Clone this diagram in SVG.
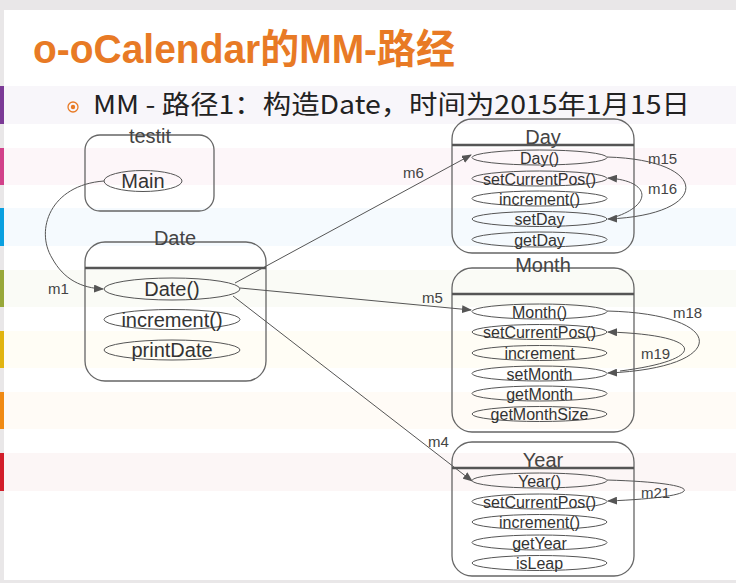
<svg xmlns="http://www.w3.org/2000/svg" width="736" height="583" viewBox="0 0 736 583">
<defs>
<marker id="arr" markerUnits="userSpaceOnUse" markerWidth="10" markerHeight="8" refX="9" refY="4" orient="auto">
<path d="M0,0 L10,4 L0,8 z" fill="#555"/>
</marker>
<style>
.box{fill:none;stroke:#666;stroke-width:1.3}
.sep{stroke:#555;stroke-width:2.5}
.ov{fill:none;stroke:#555;stroke-width:1}
.t{font-family:"Liberation Sans",Arial,sans-serif;fill:#333;text-anchor:middle}
.big{font-size:20px}
.sm{font-size:16px}
.lbl{font-family:"Liberation Sans",Arial,sans-serif;font-size:15px;fill:#444}
.ttl{font-family:"Liberation Sans",Arial,sans-serif;font-size:20px;fill:#444;text-anchor:middle}
.con{fill:none;stroke:#555;stroke-width:1;marker-end:url(#arr)}
</style>
</defs>
<rect x="0" y="0" width="736" height="583" fill="#ffffff"/>
<g id="background">
<rect x="0" y="0" width="736" height="10" fill="#e9e7e8"/>
<rect x="0" y="0" width="4" height="583" fill="#e9e7e8"/>
<rect x="0" y="580" width="736" height="3" fill="#e9e7e8"/>
<rect x="4" y="86" width="732" height="38" fill="#f8f6fa"/>
<rect x="4" y="148" width="732" height="37" fill="#fdf6f9"/>
<rect x="4" y="208" width="732" height="38" fill="#f5fafe"/>
<rect x="4" y="270" width="732" height="37" fill="#fafbf6"/>
<rect x="4" y="331" width="732" height="37" fill="#fffdf5"/>
<rect x="4" y="392" width="732" height="37" fill="#fffbf6"/>
<rect x="4" y="453" width="732" height="38" fill="#fcf6f6"/>
<rect x="0" y="86" width="4" height="38" fill="#7b3a96"/>
<rect x="0" y="148" width="4" height="37" fill="#d2418a"/>
<rect x="0" y="208" width="4" height="38" fill="#0aa0e0"/>
<rect x="0" y="270" width="4" height="37" fill="#98a83a"/>
<rect x="0" y="331" width="4" height="37" fill="#e1b410"/>
<rect x="0" y="392" width="4" height="37" fill="#f08a14"/>
<rect x="0" y="453" width="4" height="38" fill="#d21e2a"/>
</g>
<g id="title">
<text x="33" y="63" font-family="Liberation Sans,'Noto Sans CJK SC',sans-serif" font-size="40" font-weight="bold" fill="#e87a25" textLength="422" lengthAdjust="spacingAndGlyphs">o-oCalendar的MM-路经</text>
<circle cx="73" cy="107" r="5" fill="none" stroke="#e87a25" stroke-width="1.3"/>
<circle cx="73" cy="107" r="2.2" fill="#e87a25"/>
<text x="93" y="114" font-family="'Noto Sans CJK SC',sans-serif" font-size="26" fill="#222" textLength="597" lengthAdjust="spacingAndGlyphs">MM - 路径1：构造Date，时间为2015年1月15日</text>
</g>
<g id="testit">
<rect class="box" x="85" y="135" width="129" height="76" rx="15"/>
<text class="ttl" x="150" y="143" font-size="19">testit</text>
<ellipse class="ov" cx="143" cy="181" rx="39" ry="10.5"/>
<text class="t big" x="143" y="188">Main</text>
</g>
<g id="Date">
<rect class="box" x="85" y="242" width="181" height="139" rx="20"/>
<text class="ttl" x="175" y="245">Date</text>
<line class="sep" x1="85" y1="268" x2="266" y2="268"/>
<ellipse class="ov" cx="172" cy="289" rx="68" ry="11"/>
<text class="t big" x="172" y="296">Date()</text>
<ellipse class="ov" cx="172" cy="319.5" rx="68" ry="10"/>
<text class="t big" x="172" y="326.5">increment()</text>
<ellipse class="ov" cx="172" cy="350" rx="68" ry="10"/>
<text class="t big" x="172" y="357">printDate</text>
</g>
<g id="Day">
<rect class="box" x="452" y="119" width="182" height="134" rx="20"/>
<text class="ttl" x="543" y="144">Day</text>
<line class="sep" x1="452" y1="145" x2="634" y2="145"/>
<ellipse class="ov" cx="539.5" cy="157.5" rx="67.5" ry="7.5"/>
<text class="t sm" x="539.5" y="163.5">Day()</text>
<ellipse class="ov" cx="539.5" cy="178.5" rx="67.5" ry="7.5"/>
<text class="t sm" x="539.5" y="184.5">setCurrentPos()</text>
<ellipse class="ov" cx="539.5" cy="198.5" rx="67.5" ry="7.5"/>
<text class="t sm" x="539.5" y="204.5">increment()</text>
<ellipse class="ov" cx="539.5" cy="219" rx="67.5" ry="7.5"/>
<text class="t sm" x="539.5" y="225">setDay</text>
<ellipse class="ov" cx="539.5" cy="239.5" rx="67.5" ry="7.5"/>
<text class="t sm" x="539.5" y="245.5">getDay</text>
</g>
<g id="Month">
<rect class="box" x="452" y="268" width="182" height="164" rx="20"/>
<text class="ttl" x="543" y="272">Month</text>
<line class="sep" x1="452" y1="294" x2="634" y2="294"/>
<ellipse class="ov" cx="539.5" cy="311.5" rx="67.5" ry="7.5"/>
<text class="t sm" x="539.5" y="317.5">Month()</text>
<ellipse class="ov" cx="539.5" cy="332" rx="67.5" ry="7.5"/>
<text class="t sm" x="539.5" y="338">setCurrentPos()</text>
<ellipse class="ov" cx="539.5" cy="353" rx="67.5" ry="7.5"/>
<text class="t sm" x="539.5" y="359">increment</text>
<ellipse class="ov" cx="539.5" cy="373.5" rx="67.5" ry="7.5"/>
<text class="t sm" x="539.5" y="379.5">setMonth</text>
<ellipse class="ov" cx="539.5" cy="393.5" rx="67.5" ry="7.5"/>
<text class="t sm" x="539.5" y="399.5">getMonth</text>
<ellipse class="ov" cx="539.5" cy="414" rx="67.5" ry="7.5"/>
<text class="t sm" x="539.5" y="420">getMonthSize</text>
</g>
<g id="Year">
<rect class="box" x="452" y="442" width="182" height="134" rx="20"/>
<text class="ttl" x="543" y="467">Year</text>
<line class="sep" x1="452" y1="468" x2="634" y2="468"/>
<ellipse class="ov" cx="539.5" cy="480.5" rx="67.5" ry="7.5"/>
<text class="t sm" x="539.5" y="486.5">Year()</text>
<ellipse class="ov" cx="539.5" cy="501.5" rx="67.5" ry="7.5"/>
<text class="t sm" x="539.5" y="507.5">setCurrentPos()</text>
<ellipse class="ov" cx="539.5" cy="522" rx="67.5" ry="7.5"/>
<text class="t sm" x="539.5" y="528">increment()</text>
<ellipse class="ov" cx="539.5" cy="542.5" rx="67.5" ry="7.5"/>
<text class="t sm" x="539.5" y="548.5">getYear</text>
<ellipse class="ov" cx="539.5" cy="563" rx="67.5" ry="7.5"/>
<text class="t sm" x="539.5" y="569">isLeap</text>
</g>
<g id="connectors">
<path class="con" d="M104,181 C50,185 35,230 52,258 C64,280 82,288 103,289"/>
<text class="lbl" x="48" y="294">m1</text>
<path class="con" d="M235,283 L471,155"/>
<text class="lbl" x="403" y="178">m6</text>
<path class="con" d="M240,288 L471,310"/>
<text class="lbl" x="422" y="303">m5</text>
<path class="con" d="M233,296 L472,481"/>
<text class="lbl" x="428" y="447">m4</text>
<path class="con" d="M607,157 C712,160 712,215 608,219"/>
<text class="lbl" x="648" y="164">m15</text>
<path class="con" d="M615,217 C652,205 652,181 608,178"/>
<text class="lbl" x="648" y="194">m16</text>
<path class="con" d="M607,311 C730,314 730,368 608,373"/>
<text class="lbl" x="673" y="318">m18</text>
<path class="con" d="M620,371 C708,360 708,335 608,332"/>
<text class="lbl" x="641" y="359">m19</text>
<path class="con" d="M607,480 C710,483 710,497 608,501"/>
<text class="lbl" x="641" y="498">m21</text>
</g>
</svg>
